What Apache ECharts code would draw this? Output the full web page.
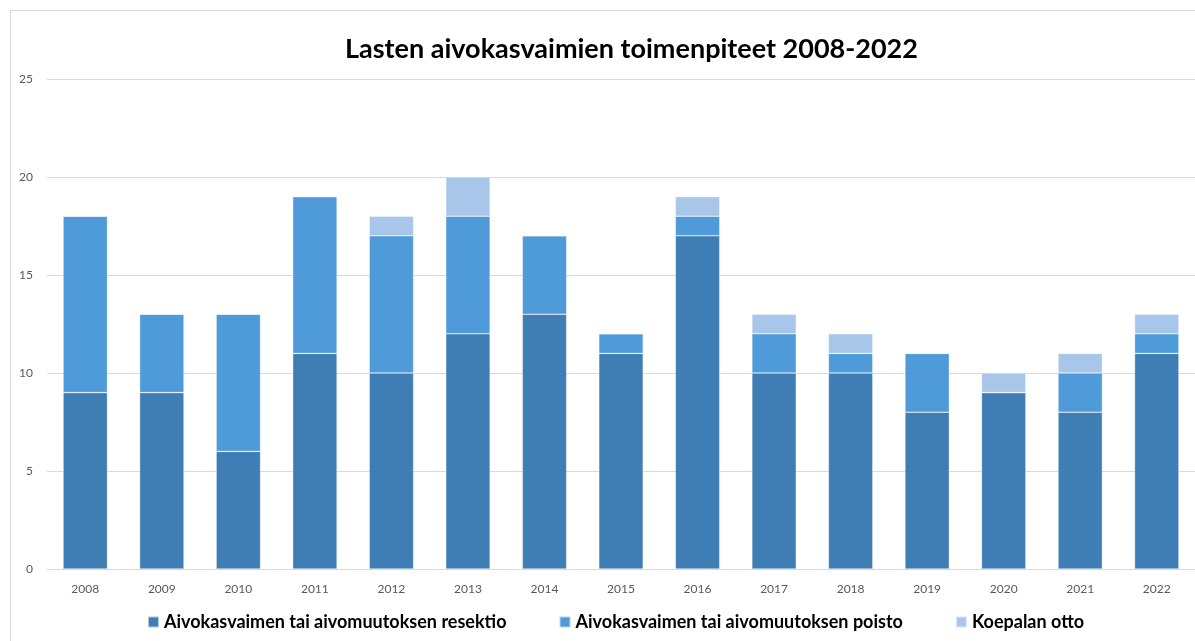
<!DOCTYPE html>
<html>
<head>
<meta charset="utf-8">
<script src="https://cdn.jsdelivr.net/npm/echarts@6/dist/echarts.min.js"></script>
<style>
  html, body { margin: 0; padding: 0; background: #fff; }
  #chart { width: 1195px; height: 641px; }
</style>
</head>
<body>
<div id="chart"></div>
<script>
// Vuodet ja toimenpidemäärät
const years = ['2008','2009','2010','2011','2012','2013','2014','2015','2016','2017','2018','2019','2020','2021','2022'];
const resektio = [9, 9, 6, 11, 10, 12, 13, 11, 17, 10, 10, 8, 9, 8, 11];
const poisto   = [9, 4, 7, 8, 7, 6, 4, 1, 1, 2, 1, 3, 0, 2, 1];
const koepala  = [0, 0, 0, 0, 1, 2, 0, 0, 1, 1, 1, 0, 1, 1, 1];
const seriesNames = [
  'Aivokasvaimen tai aivomuutoksen resektio',
  'Aivokasvaimen tai aivomuutoksen poisto',
  'Koepalan otto'
];
const colors = ['#3F7DB5', '#4F9AD8', '#A8C6EA'];
const font = 'Lato, "Open Sans", sans-serif';

const chart = echarts.init(document.getElementById('chart'), null, { renderer: 'canvas' });

function barSeries(name, data, color) {
  return {
    name: name,
    type: 'bar',
    stack: 'total',
    data: data,
    barCategoryGap: '42%',
    itemStyle: { color: color, borderColor: 'rgba(255,255,255,0.6)', borderWidth: 0.6 },
    emphasis: { disabled: true }
  };
}

chart.setOption({
  animation: false,
  color: colors,
  title: {
    text: 'Lasten aivokasvaimien toimenpiteet 2008-2022',
    left: 340,
    top: 31,
    textStyle: { fontFamily: font, fontWeight: 'bold', fontSize: 27, color: '#000' }
  },
  legend: {
    bottom: 5,
    left: 142,
    itemWidth: 11,
    itemHeight: 11,
    itemGap: 52,
    icon: 'rect',
    textStyle: { fontFamily: font, fontWeight: 'bold', fontSize: 18, color: '#000' },
    data: seriesNames
  },
  grid: { left: 47, top: 79, width: 1150, bottom: 72, containLabel: false },
  xAxis: {
    type: 'category',
    data: years,
    axisLine: { lineStyle: { color: '#D9D9D9', width: 1 } },
    axisTick: { show: false },
    axisLabel: { fontFamily: font, fontSize: 12, color: '#595959', margin: 14 }
  },
  yAxis: {
    type: 'value',
    min: 0,
    max: 25,
    interval: 5,
    axisLine: { show: false },
    axisTick: { show: false },
    splitLine: { lineStyle: { color: '#D9D9D9', width: 1 } },
    axisLabel: { fontFamily: font, fontSize: 12, color: '#595959', margin: 14 }
  },
  graphic: [{
    type: 'rect',
    shape: { x: 10.5, y: 10.5, width: 1200, height: 700 },
    style: { fill: 'none', stroke: '#D9D9D9', lineWidth: 1 },
    silent: true,
    z: -1
  }],
  series: [
    barSeries(seriesNames[0], resektio, colors[0]),
    barSeries(seriesNames[1], poisto, colors[1]),
    barSeries(seriesNames[2], koepala, colors[2])
  ]
});
</script>
</body>
</html>
